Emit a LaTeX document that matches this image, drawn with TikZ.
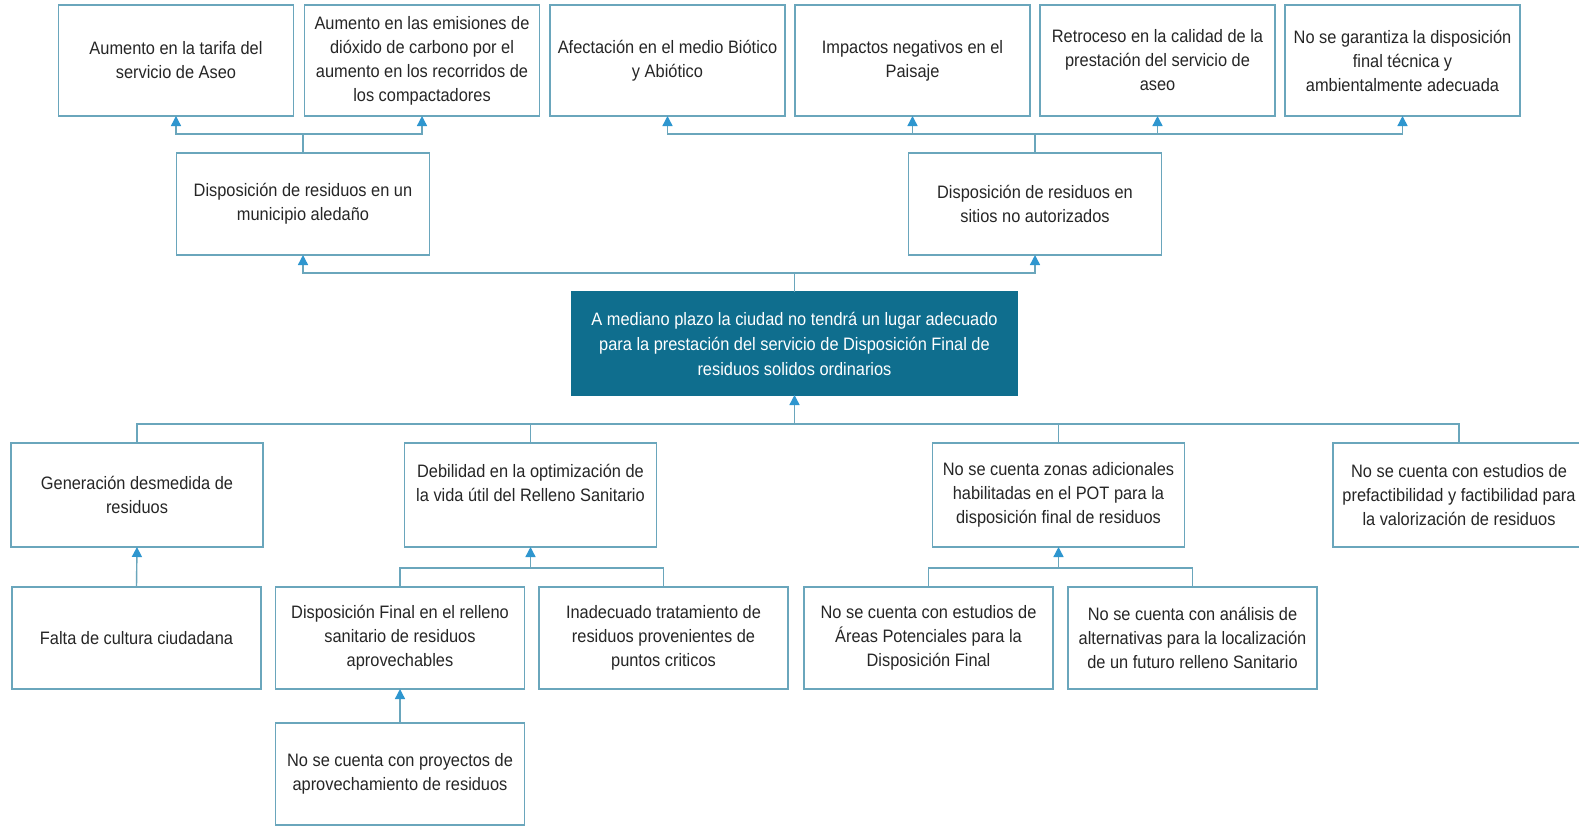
\documentclass[tikz,border=0pt]{standalone}
\usepackage{fontspec}
\setmainfont{Liberation Sans}[FakeStretch=0.91]
\usetikzlibrary{arrows.meta}
\definecolor{bordc}{HTML}{6AA6BC}
\definecolor{linec}{HTML}{6AA6BC}
\definecolor{arrc}{HTML}{2E96CF}
\definecolor{mainc}{HTML}{0F6E8E}
\definecolor{txtc}{HTML}{262626}
\begin{document}
\begin{tikzpicture}[x=1pt,y=-1pt,
  box/.style={draw=bordc, line width=1.4pt, fill=white, inner sep=0pt, outer sep=0pt,
              align=center, text=txtc, font=\fontsize{18}{24}\selectfont},
  topbox/.style={box, minimum width=235pt, minimum height=111pt},
  midbox/.style={box, minimum width=253pt, minimum height=102pt},
  lvlbox/.style={box, minimum width=252pt, minimum height=104pt},
  lowbox/.style={box, minimum width=249pt, minimum height=102pt},
  mainbox/.style={box, fill=mainc, draw=mainc, text=white,
                  minimum width=445pt, minimum height=103pt,
                  font=\fontsize{18}{25}\selectfont},
  conn/.style={draw=linec, line width=1.4pt},
  arr/.style={conn, -{Triangle[width=10pt,length=10pt,color=arrc]}}
]
\useasboundingbox (0,0) rectangle (1579,825);
\clip (0,0) rectangle (1579,825);
\fill[white] (0,0) rectangle (1579,825);

% top row
\node[topbox] (t1) at (176,60.5)    {Aumento en la tarifa del\\servicio de Aseo};
\node[topbox] (t2) at (422,60.5)    {Aumento en las emisiones de\\dióxido de carbono por el\\aumento en los recorridos de\\los compactadores};
\node[topbox] (t3) at (667.5,60.5)  {Afectación en el medio Biótico\\y Abiótico};
\node[topbox] (t4) at (912.5,60.5)  {Impactos negativos en el\\Paisaje};
\node[topbox] (t5) at (1157.5,60.5) {Retroceso en la calidad de la\\prestación del servicio de\\aseo};
\node[topbox] (t6) at (1402.5,60.5) {No se garantiza la disposición\\final técnica y\\ambientalmente adecuada};

% middle row
\node[midbox] (m1) at (303,204)  {Disposición de residuos en un\\municipio aledaño};
\node[midbox] (m2) at (1035,204) {Disposición de residuos en\\sitios no autorizados};

% central problem
\node[mainbox] (c) at (794.5,343.5) {A mediano plazo la ciudad no tendrá un lugar adecuado\\para la prestación del servicio de Disposición Final de\\residuos solidos ordinarios};

% causes level 1
\node[lvlbox] (gen) at (137,495)    {Generación desmedida de\\residuos};
\node[lvlbox] (deb) at (530.5,495)  {Debilidad en la optimización de\\la vida útil del Relleno Sanitario\\\mbox{}};
\node[lvlbox] (noz) at (1058.5,495) {No se cuenta zonas adicionales\\habilitadas en el POT para la\\disposición final de residuos};
\node[lvlbox] (noe) at (1459,495)   {No se cuenta con estudios de\\prefactibilidad y factibilidad para\\la valorización de residuos};

% causes level 2
\node[lowbox] (falta) at (136.5,638)  {Falta de cultura ciudadana};
\node[lowbox] (dispf) at (400,638)    {Disposición Final en el relleno\\sanitario de residuos\\aprovechables};
\node[lowbox] (inad)  at (663.5,638)  {Inadecuado tratamiento de\\residuos provenientes de\\puntos criticos};
\node[lowbox] (areas) at (928.5,638)  {No se cuenta con estudios de\\Áreas Potenciales para la\\Disposición Final};
\node[lowbox] (anal)  at (1192.5,638) {No se cuenta con análisis de\\alternativas para la localización\\de un futuro relleno Sanitario};

% level 3
\node[lowbox] (noproy) at (400,774) {No se cuenta con proyectos de\\aprovechamiento de residuos};

% connectors: effects
\coordinate (m1j) at ([yshift=19pt]m1.north);
\draw[arr] (m1.north) -- (m1j) -| (t1.south);
\draw[arr] (m1j) -| (t2.south);

\coordinate (m2j) at ([yshift=19pt]m2.north);
\draw[arr] (m2.north) -- (m2j) -| (t3.south);
\draw[arr] (m2j) -| (t4.south);
\draw[arr] (m2j) -| (t5.south);
\draw[arr] (m2j) -| (t6.south);

\coordinate (cj) at ([yshift=19pt]c.north);
\draw[arr] (c.north) -- (cj) -| (m1.south);
\draw[arr] (cj) -| (m2.south);

% connectors: causes
\coordinate (cb) at ([yshift=-29pt]c.south);
\draw[conn] (gen.north) |- (cb);
\draw[conn] (deb.north) |- (cb);
\draw[conn] (noz.north) |- (cb);
\draw[conn] (noe.north) |- (cb);
\draw[arr] (cb) -- (c.south);

\draw[arr] (falta.north) -- (gen.south);

\coordinate (dj) at ([yshift=-21pt]deb.south);
\draw[conn] (dispf.north) |- (dj);
\draw[conn] (inad.north) |- (dj);
\draw[arr] (dj) -- (deb.south);

\coordinate (nj) at ([yshift=-21pt]noz.south);
\draw[conn] (areas.north) |- (nj);
\draw[conn] (anal.north) |- (nj);
\draw[arr] (nj) -- (noz.south);

\draw[arr] (noproy.north) -- (dispf.south);
\end{tikzpicture}
\end{document}
